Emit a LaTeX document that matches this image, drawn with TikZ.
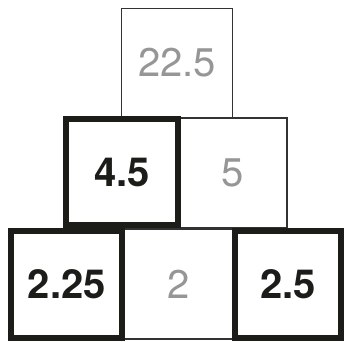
\documentclass[tikz,border=0pt]{standalone}
\usepackage{fontspec}
\setmainfont{TeX Gyre Heros}
\definecolor{inkdark}{RGB}{28,28,24}
\definecolor{thinline}{RGB}{50,50,50}
\definecolor{greytext}{RGB}{150,150,150}
\tikzset{
  cellthin/.style={draw=thinline, line width=1.8pt, rectangle, inner sep=0pt,
    font=\fontsize{40}{40}\selectfont, text=greytext},
  cellthick/.style={draw=inkdark, line width=6pt, rectangle, inner sep=0pt,
    font=\fontsize{40}{40}\selectfont\bfseries, text=inkdark}
}
\begin{document}
\begin{tikzpicture}[x=1pt,y=-1pt]
\useasboundingbox (0,0) rectangle (345,341);
\fill[white] (0,0) rectangle (345,341);
% thin cells
\node[cellthin, minimum width=111pt, minimum height=109pt] (top) at (177,63) {22.5};
\node[cellthin, minimum width=109pt, minimum height=110pt] (midR) at (232.5,173) {5};
\node[cellthin, minimum width=113pt, minimum height=110pt] (botM) at (178.5,284) {2};
% thick cells
\node[cellthick, minimum width=112pt, minimum height=106pt] (midL) at (122,172) {4.5};
\node[cellthick, minimum width=110.7pt, minimum height=106.7pt] (botL) at (66.7,284.3) {2.25};
\node[cellthick, minimum width=106pt, minimum height=106.7pt] (botR) at (288,284.3) {2.5};
\end{tikzpicture}
\end{document}
